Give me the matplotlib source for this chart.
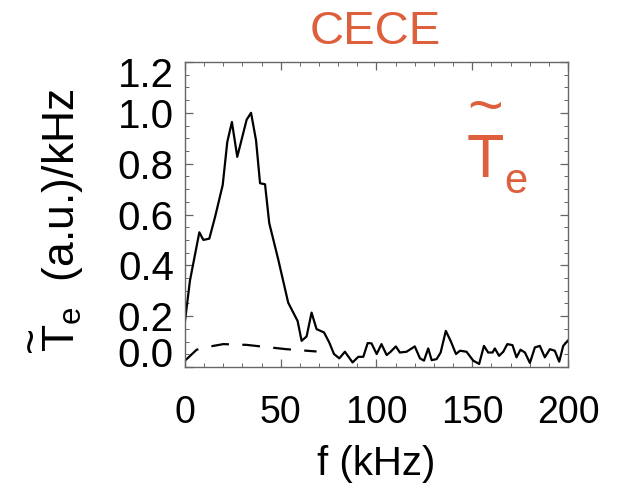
import matplotlib
matplotlib.use("Agg")
import matplotlib.pyplot as plt
from matplotlib import font_manager
from matplotlib.ticker import MultipleLocator
from matplotlib.transforms import ScaledTranslation

# ---- data ----
freq_khz = [0, 2.6, 7.5, 9.6, 12.7, 15.7, 19.7, 22.1, 24.5, 27.3, 32.2, 34.5, 37.1, 39.2,
            41.8, 44.0, 48.7, 53.9, 58.8, 60.9, 63.5, 66.1, 68.7, 72.6, 75.3, 77.8, 80.6,
            83.5, 87.5, 90.5, 93.1, 95.4, 97.4, 100.1, 102.6, 105.3, 107.4, 110.1, 112.2,
            115.7, 120.0, 122.7, 124.8, 127.0, 128.8, 131.4, 133.5, 136.2, 138.7, 141.5,
            143.6, 147.0, 150.5, 153.6, 156.1, 158.3, 160.6, 161.8, 164.0, 166.2, 168.3,
            171.0, 173.1, 175.2, 177.5, 180.1, 182.7, 185.3, 187.9, 190.5, 193.1, 195.4,
            197.5, 199.8]
te_spectrum = [0.18, 0.34, 0.53, 0.50, 0.505, 0.59, 0.716, 0.886, 0.964, 0.827, 0.973, 1.0,
               0.892, 0.723, 0.719, 0.566, 0.423, 0.253, 0.181, 0.103, 0.12, 0.214, 0.149,
               0.136, 0.097, 0.051, 0.034, 0.06, 0.018, 0.040, 0.040, 0.094, 0.093, 0.051,
               0.09, 0.047, 0.06, 0.081, 0.057, 0.06, 0.081, 0.034, 0.025, 0.073, 0.027,
               0.031, 0.057, 0.142, 0.103, 0.051, 0.064, 0.06, 0.025, 0.012, 0.083, 0.057,
               0.057, 0.073, 0.044, 0.06, 0.09, 0.086, 0.038, 0.068, 0.057, 0.016, 0.077,
               0.083, 0.038, 0.07, 0.064, 0.021, 0.083, 0.103]
noise_freq_khz = [0, 6.1, 14.8, 20.0, 32.2, 44.4, 53.0, 68.7]
noise_level = [0.025, 0.068, 0.083, 0.09, 0.087, 0.077, 0.07, 0.061]

x_ticks = [0, 50, 100, 150, 200]
y_ticks = [0.0, 0.2, 0.4, 0.6, 0.8, 1.0, 1.2]

ORANGE = "#DE5F3B"

avail = {f.name for f in font_manager.fontManager.ttflist}
base = "Liberation Sans" if "Liberation Sans" in avail else "DejaVu Sans"

plt.rcParams["font.family"] = [base, "DejaVu Sans"]
plt.rcParams["mathtext.fontset"] = "custom"
plt.rcParams["mathtext.rm"] = base
plt.rcParams["mathtext.it"] = base
plt.rcParams["mathtext.bf"] = base

fig = plt.figure(figsize=(6.17, 4.93), dpi=100)
ax = fig.add_axes([0.2998, 0.2556, 0.6208, 0.6186])

ax.plot(freq_khz, te_spectrum, color="black", lw=1.6)
ax.plot(noise_freq_khz, noise_level, color="black", lw=1.6, linestyle=(0, (8, 6)))

ax.set_xlim(0, 200)
ax.set_ylim(0, 1.2)
ax.set_xticks(x_ticks)
ax.set_yticks(y_ticks)
ax.set_xticklabels([str(v) for v in x_ticks])
ax.set_yticklabels([f"{v:.1f}" for v in y_ticks])
ax.xaxis.set_minor_locator(MultipleLocator(10))
ax.yaxis.set_minor_locator(MultipleLocator(0.05))

for s in ax.spines.values():
    s.set_color("#666666")
    s.set_linewidth(1.0)

ax.tick_params(which="both", direction="in", top=True, right=True, color="#666666")
ax.tick_params(which="major", length=6, width=0.9)
ax.tick_params(which="minor", length=3, width=0.7)
ax.tick_params(axis="x", labelsize=27, pad=20)
ax.tick_params(axis="y", labelsize=29, pad=8)

# tick-label nudges to match the reference layout
ylabs = ax.get_yticklabels()
ylabs[0].set_transform(ylabs[0].get_transform() + ScaledTranslation(0, 0.15, fig.dpi_scale_trans))
ylabs[-1].set_transform(ylabs[-1].get_transform() + ScaledTranslation(0, -0.10, fig.dpi_scale_trans))

ax.set_xlabel("f (kHz)", fontsize=29, labelpad=10)
ax.set_ylabel("~\n" + r"$\mathrm{T}_\mathrm{e}$  (a.u.)/kHz", fontsize=32,
              linespacing=0.62, multialignment="left")
ax.yaxis.set_label_coords(-0.262, 0.48)

fig.text(0.608, 0.935, "CECE", color=ORANGE, fontsize=34,
         ha="center", va="center")

# in-plot label: T with a large tilde above, and subscript e
ax.text(0.783, 0.623, "~\nT", color=ORANGE, fontsize=44, linespacing=0.86,
        transform=ax.transAxes, ha="center", va="baseline", multialignment="center")
ax.text(0.834, 0.57, "e", color=ORANGE, fontsize=30,
        transform=ax.transAxes, ha="left", va="baseline")

fig.savefig("out.png", dpi=100)
